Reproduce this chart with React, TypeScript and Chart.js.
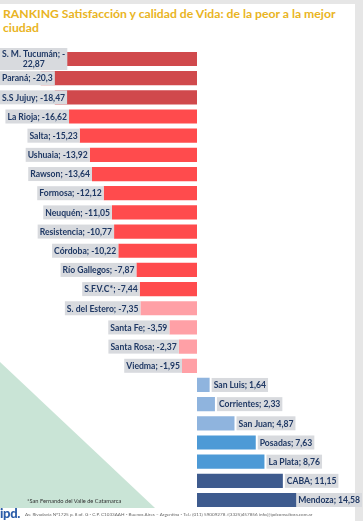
import React, { useEffect, useRef } from "react";
import { Chart, registerables } from "chart.js";

Chart.register(...registerables);

const cities = [
  "S. M. Tucumán", "Paraná", "S.S Jujuy", "La Rioja", "Salta", "Ushuaia", "Rawson",
  "Formosa", "Neuquén", "Resistencia", "Córdoba", "Río Gallegos", "S.F.V.C*",
  "S. del Estero", "Santa Fe", "Santa Rosa", "Viedma", "San Luis", "Corrientes",
  "San Juan", "Posadas", "La Plata", "CABA", "Mendoza",
];
const values = [
  -22.87, -20.3, -18.47, -16.62, -15.23, -13.92, -13.64, -12.12, -11.05, -10.77,
  -10.22, -7.87, -7.44, -7.35, -3.59, -2.37, -1.95, 1.64, 2.33, 4.87, 7.63, 8.76,
  11.15, 14.58,
];
const DR = "#d0494c", BR = "#ff4b4d", PK = "#ffa0a6", LB = "#8fb4de", MB = "#4d9ad6", DB = "#3e5b8e";
const barColors = [
  DR, DR, DR, BR, BR, BR, BR, BR, BR, BR, BR, BR, BR,
  PK, PK, PK, PK, LB, LB, LB, MB, MB, DB, DB,
];
const titleText = "RANKING Satisfacción y calidad de Vida: de la peor a la mejor ciudad";
const footnote = "*San Fernando del Valle de Catamarca";
const address =
  "Av. Rivadavia Nº1725 p. 8 of. G - C.P. C1033AAH - Buenos Aires – Argentina - Tel.: (011) 59009278 /(3325)457856 info@ipdconsultora.com.ar";

const fmt = (v: number) => String(v).replace(".", ",");

const labelPlugin = {
  id: "boxLabels",
  afterDatasetsDraw(chart: any) {
    const ctx = chart.ctx as CanvasRenderingContext2D;
    const meta = chart.getDatasetMeta(0);
    ctx.save();
    ctx.font = "bold 8.6px Lato";
    ctx.textBaseline = "middle";
    ctx.textAlign = "center";
    const pad = 2;
    const maxRight = 362;
    meta.data.forEach((bar: any, i: number) => {
      const v = values[i];
      const text = `${cities[i]}; ${fmt(v)}`;
      let lines = [text];
      let w = ctx.measureText(text).width + 2 * pad;
      let h = 14;
      let left: number;
      if (v < 0) {
        left = bar.x - w;
        if (left < -30) {
          lines = [`${cities[i]}; -`, fmt(-v)];
          w = Math.max(...lines.map((l) => ctx.measureText(l).width)) + 2 * pad;
          h = 22;
          left = bar.x - w;
        }
        left = Math.max(0, left);
      } else {
        left = bar.x + 2;
        if (left + w > maxRight) left = maxRight - w;
      }
      ctx.fillStyle = "#d8dade";
      ctx.fillRect(left, bar.y - h / 2, w, h);
      ctx.fillStyle = "#1f3864";
      const lh = 10;
      lines.forEach((l, k) => {
        const yy = bar.y + (k - (lines.length - 1) / 2) * lh + 0.5;
        ctx.fillText(l, left + w / 2, yy);
      });
    });
    ctx.restore();
  },
};

export default function App() {
  const ref = useRef<HTMLCanvasElement>(null);
  useEffect(() => {
    document.body.style.margin = "0";
    const chart = new Chart(ref.current!, {
      type: "bar",
      data: {
        labels: cities,
        datasets: [
          {
            data: values,
            backgroundColor: barColors,
            borderWidth: 0,
            barPercentage: 0.74,
            categoryPercentage: 1,
          },
        ],
      },
      options: {
        indexAxis: "y",
        animation: false,
        responsive: false,
        maintainAspectRatio: false,
        layout: { padding: { left: 4.5, right: 50.5, top: 49.4, bottom: 11.4 } },
        scales: {
          x: { display: false, min: -25, max: 15 },
          y: { display: false },
        },
        plugins: { legend: { display: false }, tooltip: { enabled: false } },
      },
      plugins: [labelPlugin],
    });
    return () => chart.destroy();
  }, []);

  return (
    <div
      style={{
        position: "fixed", left: 0, top: 0, width: 363, height: 521,
        background: "#e6e6e6", overflow: "hidden", fontFamily: "Lato, sans-serif",
      }}
    >
      <div style={{ position: "absolute", left: 0, top: 4, width: 355, height: 517, background: "#ffffff" }} />
      <svg width={363} height={521} style={{ position: "absolute", left: 0, top: 0 }}>
        <polygon points="0,362 155,508 0,508" fill="#c9e4d6" />
      </svg>
      <div
        style={{
          position: "absolute", left: 3, top: 7, width: 345, color: "#e9b423",
          fontWeight: 700, fontSize: 12.2, lineHeight: "14px",
        }}
      >
        {titleText}
      </div>
      <canvas ref={ref} width={363} height={521} style={{ position: "absolute", left: 0, top: 0 }} />
      <div
        style={{
          position: "absolute", left: 27, top: 497, fontSize: 5.7, color: "#333",
          whiteSpace: "nowrap", lineHeight: "8px",
        }}
      >
        {footnote}
      </div>
      <div
        style={{
          position: "absolute", left: 0, top: 505, fontSize: 13, fontWeight: 900,
          color: "#2a5ca8", lineHeight: "16px", letterSpacing: -0.3,
        }}
      >
        ipd.
      </div>
      <div
        style={{
          position: "absolute", left: 25, top: 511, fontSize: 4.6, color: "#666",
          whiteSpace: "nowrap", lineHeight: "7px",
        }}
      >
        {address}
      </div>
    </div>
  );
}
